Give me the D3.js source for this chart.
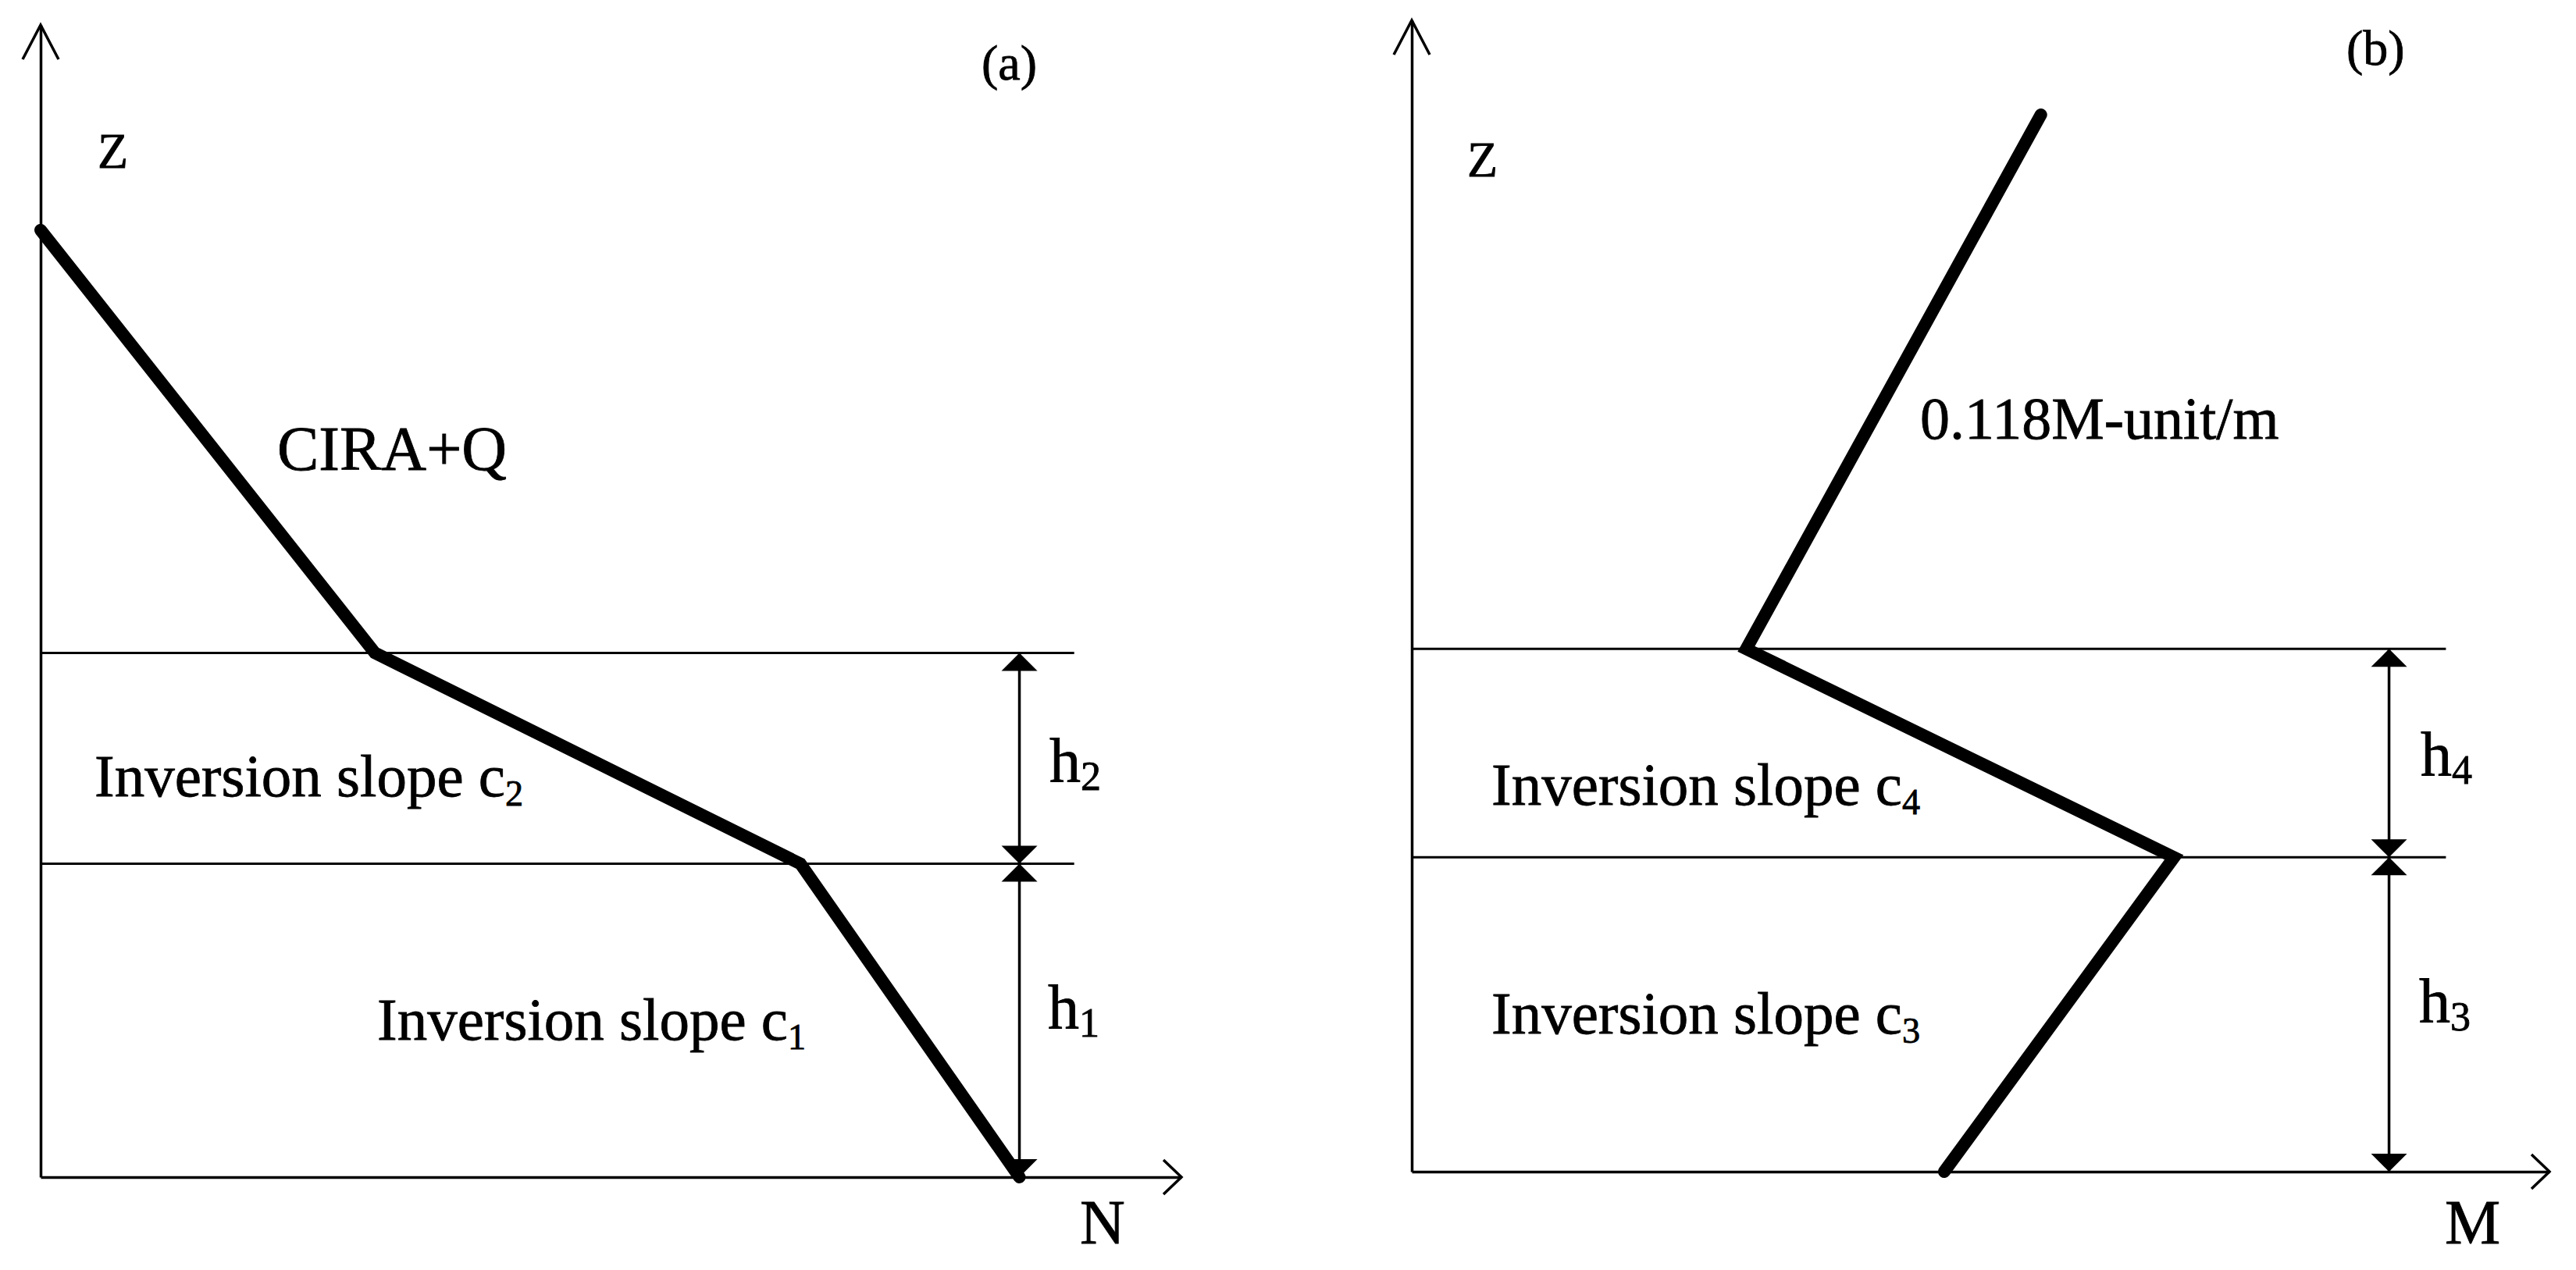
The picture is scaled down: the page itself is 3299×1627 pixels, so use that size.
<!DOCTYPE html>
<html>
<head>
<meta charset="utf-8">
<script src="https://cdn.jsdelivr.net/npm/d3@7"></script>
<style>
  body { margin: 0; background: #fff; }
  text { font-family: "Liberation Serif", "Times New Roman", serif; fill: #000; stroke: #000; stroke-width: 0.8; }
</style>
</head>
<body>
<svg id="chart" width="3299" height="1627"></svg>
<script>
// panel (a): refractivity N profile, values in % of axis length
const nProfile = [0, 29.3, 66.6, 85.8];
const zProfileA = [82.2, 45.5, 27.2, 0];
const layersA = [0, 27.2, 45.5];
const layerNamesA = ['1', '2'];

// panel (b): modified refractivity M profile
const mProfile = [55.3, 29.4, 67.0, 46.8];
const zProfileB = [91.8, 45.4, 27.3, 0];
const layersB = [0, 27.3, 45.4];
const layerNamesB = ['3', '4'];

const axisNames = ['N', 'M'];
const panelTags = ['(a)', '(b)'];
const gradientLabels = ['CIRA+Q', '0.118M-unit/m'];

const svg = d3.select('#chart');

function drawPanel(p) {
  const x = d3.scaleLinear().domain([0, 100]).range([p.left, p.right]);
  const y = d3.scaleLinear().domain([0, 100]).range([p.bottom, p.top]);
  const g = svg.append('g');

  // axes without ticks, arrow heads added by hand
  g.append('g')
    .attr('transform', `translate(0,${p.bottom})`)
    .call(d3.axisBottom(x).tickValues([]).tickSizeOuter(0))
    .select('.domain').attr('stroke', '#000').attr('stroke-width', 3.5);
  g.append('g')
    .attr('transform', `translate(${p.left},0)`)
    .call(d3.axisLeft(y).tickValues([]).tickSizeOuter(0))
    .select('.domain').attr('stroke', '#000').attr('stroke-width', 3.5);

  g.append('path')
    .attr('d', `M${x(100) - 23},${y(0) - 22}L${x(100)},${y(0)}L${x(100) - 23},${y(0) + 22}`)
    .attr('fill', 'none').attr('stroke', '#000').attr('stroke-width', 3.5);
  g.append('path')
    .attr('d', `M${x(0) - 23},${y(100) + 44}L${x(0)},${y(100)}L${x(0) + 23},${y(100) + 44}`)
    .attr('fill', 'none').attr('stroke', '#000').attr('stroke-width', 3.5);

  // layer boundaries
  g.selectAll('line.layer')
    .data(p.layers.slice(1))
    .join('line')
    .attr('class', 'layer')
    .attr('x1', x(0)).attr('x2', x(p.lineEnd))
    .attr('y1', d => y(d)).attr('y2', d => y(d))
    .attr('stroke', '#000').attr('stroke-width', 3);

  // dimension arrows h
  const dx = x(p.dimX);
  const spans = d3.pairs(p.layers);
  spans.forEach(([lo, hi]) => {
    g.append('line')
      .attr('x1', dx).attr('x2', dx)
      .attr('y1', y(lo)).attr('y2', y(hi))
      .attr('stroke', '#000').attr('stroke-width', 3.5);
    g.append('path')
      .attr('d', `M${dx},${y(hi)}L${dx - 23},${y(hi) + 23}L${dx + 23},${y(hi) + 23}Z`);
    g.append('path')
      .attr('d', `M${dx},${y(lo)}L${dx - 23},${y(lo) - 23}L${dx + 23},${y(lo) - 23}Z`);
  });

  // profile
  const pts = d3.zip(p.xs, p.zs);
  g.append('path')
    .datum(pts)
    .attr('d', d3.line().x(d => x(d[0])).y(d => y(d[1])))
    .attr('fill', 'none')
    .attr('stroke', '#000')
    .attr('stroke-width', 16)
    .attr('stroke-linecap', 'round')
    .attr('stroke-linejoin', 'miter');

  // labels
  p.labels.forEach(l => {
    const t = g.append('text')
      .attr('x', l.x).attr('y', l.y)
      .attr('font-size', l.size);
    t.append('tspan').text(l.text);
    if (l.sub) {
      t.append('tspan')
        .attr('font-size', l.size * l.subScale)
        .attr('dy', l.subShift)
        .text(l.sub);
    }
  });
}

drawPanel({
  left: 52, right: 1513, bottom: 1508, top: 32,
  xs: nProfile, zs: zProfileA, layers: layersA,
  lineEnd: 90.6, dimX: 85.8,
  labels: [
    { text: panelTags[0], x: 1257, y: 102, size: 64 },
    { text: 'Z', x: 125, y: 215, size: 64 },
    { text: axisNames[0], x: 1383, y: 1593, size: 80 },
    { text: gradientLabels[0], x: 355, y: 602, size: 80 },
    { text: 'Inversion slope c', sub: layerNamesA[1], x: 121, y: 1020, size: 77, subScale: 0.6, subShift: 12 },
    { text: 'Inversion slope c', sub: layerNamesA[0], x: 483, y: 1332, size: 77, subScale: 0.6, subShift: 12 },
    { text: 'h', sub: layerNamesA[1], x: 1344, y: 1001, size: 80, subScale: 0.65, subShift: 11 },
    { text: 'h', sub: layerNamesA[0], x: 1342, y: 1317, size: 80, subScale: 0.65, subShift: 11 }
  ]
});

drawPanel({
  left: 1808, right: 3265, bottom: 1501, top: 26,
  xs: mProfile, zs: zProfileB, layers: layersB,
  lineEnd: 90.9, dimX: 85.9,
  labels: [
    { text: panelTags[1], x: 3005, y: 83, size: 64 },
    { text: 'Z', x: 1879, y: 226, size: 64 },
    { text: axisNames[1], x: 3131, y: 1593, size: 80 },
    { text: gradientLabels[1], x: 2459, y: 562, size: 76 },
    { text: 'Inversion slope c', sub: layerNamesB[1], x: 1910, y: 1031, size: 77, subScale: 0.6, subShift: 12 },
    { text: 'Inversion slope c', sub: layerNamesB[0], x: 1910, y: 1324, size: 77, subScale: 0.6, subShift: 12 },
    { text: 'h', sub: layerNamesB[1], x: 3100, y: 993, size: 80, subScale: 0.65, subShift: 11 },
    { text: 'h', sub: layerNamesB[0], x: 3098, y: 1309, size: 80, subScale: 0.65, subShift: 11 }
  ]
});
</script>
</body>
</html>
